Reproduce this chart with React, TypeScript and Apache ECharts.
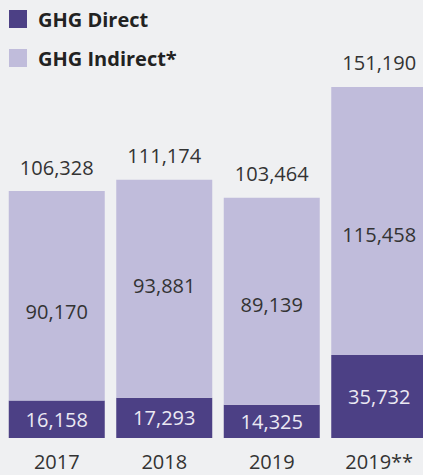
import React, { useEffect, useRef } from "react";
import * as echarts from "echarts";

const categories = ["2017", "2018", "2019", "2019**"];
const directValues = [16158, 17293, 14325, 35732];
const indirectValues = [90170, 93881, 89139, 115458];
const totalValues = [106328, 111174, 103464, 151190];

// label vertical offsets inside the indirect bars (style)
const indirectLabelDy = [16, -3, 3, 14];

const fmt = (v: number) => v.toLocaleString("en-US");
const FONT = "Open Sans";

export default function App() {
  const ref = useRef<HTMLDivElement>(null);
  useEffect(() => {
    if (!ref.current) return;
    const chart = echarts.init(ref.current, undefined, { renderer: "svg" });
    chart.setOption({
      animation: false,
      backgroundColor: "#eff0f2",
      textStyle: { fontFamily: FONT },
      legend: {
        data: ["GHG Direct", "GHG Indirect*"],
        orient: "vertical",
        left: 4,
        top: 4,
        itemWidth: 18,
        itemHeight: 18,
        itemGap: 19,
        icon: "rect",
        selectedMode: false,
        textStyle: {
          fontFamily: FONT,
          fontSize: 20,
          fontWeight: "bold",
          color: "#222222",
          padding: [0, 0, 0, 6],
        },
      },
      grid: { left: 3, width: 430, bottom: 37, height: 371.5 },
      xAxis: {
        type: "category",
        data: categories,
        axisLine: { show: false },
        axisTick: { show: false },
        axisLabel: {
          fontSize: 20,
          lineHeight: 20,
          color: "#333333",
          margin: 13,
          fontFamily: FONT,
        },
      },
      yAxis: { type: "value", min: 0, max: 160000, show: false },
      series: [
        {
          name: "GHG Direct",
          type: "bar",
          stack: "ghg",
          barWidth: 96,
          data: directValues,
          itemStyle: { color: "#4c4085" },
          label: {
            show: true,
            position: "inside",
            fontSize: 20,
            color: "#ebe9f3",
            fontFamily: FONT,
            formatter: (p: any) => fmt(p.value),
          },
        },
        {
          name: "GHG Indirect*",
          type: "bar",
          stack: "ghg",
          barWidth: 96,
          data: indirectValues.map((v, i) => ({
            value: v,
            label: { offset: [0, indirectLabelDy[i]] },
          })),
          itemStyle: { color: "#c0bcdb" },
          label: {
            show: true,
            position: "inside",
            fontSize: 20,
            color: "#333333",
            fontFamily: FONT,
            formatter: (p: any) => fmt(p.value),
          },
        },
        {
          name: "Total",
          type: "bar",
          barWidth: 96,
          barGap: "-100%",
          silent: true,
          z: 1,
          data: totalValues,
          itemStyle: { color: "rgba(0,0,0,0)" },
          label: {
            show: true,
            position: "top",
            distance: 14,
            fontSize: 20,
            color: "#333333",
            fontFamily: FONT,
            formatter: (p: any) => fmt(p.value),
          },
        },
      ],
    });
    return () => chart.dispose();
  }, []);
  return (
    <div
      style={{
        position: "absolute",
        left: 0,
        top: 0,
        width: 423,
        height: 475,
        overflow: "hidden",
        background: "#eff0f2",
      }}
    >
      <div ref={ref} style={{ width: 440, height: 475 }} />
    </div>
  );
}
